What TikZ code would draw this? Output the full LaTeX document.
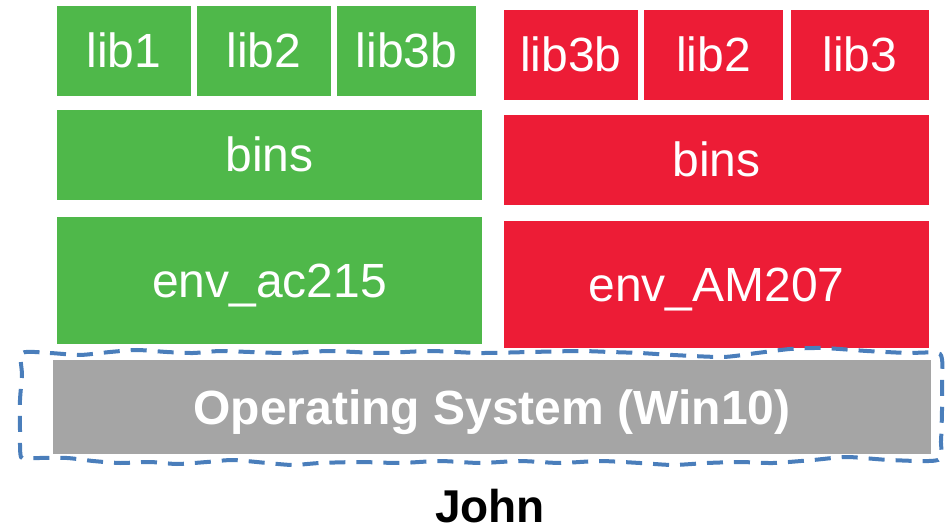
\documentclass[tikz,border=0pt]{standalone}
\usepackage{fontspec}
\setmainfont{Liberation Sans}
\definecolor{envgreen}{RGB}{79,184,74}
\definecolor{envred}{RGB}{237,28,54}
\definecolor{osgray}{RGB}{165,165,165}
\definecolor{userblue}{RGB}{74,126,187}
\tikzset{
  layer/.style={draw=none, inner sep=0pt, text=white, text height=34pt, text depth=0pt,
    font=\fontsize{48}{58}\selectfont},
  gbox/.style={layer, fill=envgreen},
  rbox/.style={layer, fill=envred},
  osbox/.style={layer, fill=osgray, font=\fontsize{48}{58}\selectfont\bfseries},
  userline/.style={draw=userblue, line width=4pt, dash pattern=on 16pt off 11pt},
}
\begin{document}
\begin{tikzpicture}[x=1pt,y=-1pt]
  \useasboundingbox (0,0) rectangle (945,529);

  % environment env_ac215
  \node[gbox, minimum width=134pt, minimum height=90pt] (g1) at (124,51) {lib1};
  \node[gbox, minimum width=134pt, minimum height=90pt] (g2) at (264,51) {lib2};
  \node[gbox, minimum width=139pt, minimum height=90pt] (g3) at (406.5,51) {lib3b};
  \node[gbox, minimum width=425pt, minimum height=90pt] (gbins) at (269.5,155) {bins};
  \node[gbox, minimum width=425pt, minimum height=127pt] (genv) at (269.5,280.5) {env\_ac215};

  % environment env_AM207
  \node[rbox, minimum width=134pt, minimum height=90pt] (r1) at (571,55) {lib3b};
  \node[rbox, minimum width=139pt, minimum height=90pt] (r2) at (713.5,55) {lib2};
  \node[rbox, minimum width=138pt, minimum height=90pt] (r3) at (860,55) {lib3};
  \node[rbox, minimum width=425pt, minimum height=90pt] (rbins) at (716.5,160) {bins};
  \node[rbox, minimum width=425pt, minimum height=127pt] (renv) at (716.5,284.5) {env\_AM207};

  % operating system
  \node[osbox, minimum width=878pt, minimum height=94pt] (os) at (492,407) {Operating System (Win10)};

  % user boundary
  \draw[userline] plot[smooth cycle, tension=0.4] coordinates {
    (22,353) (50,353) (80,355) (110,352) (137,350) (167,352) (193,353)
    (220,351) (250,352) (287,353) (330,351) (380,353) (430,351) (480,353)
    (530,352) (580,351) (610,352) (640,353) (673,355) (723,357) (757,353)
    (790,349) (823,348) (867,351) (907,353) (940,354)
    (942,380) (942,410) (941,440) (938,460)
    (890,460) (847,457) (813,460) (773,463) (740,462) (707,463)
    (673,465) (640,463) (600,461) (560,463) (520,461) (480,463) (440,461)
    (400,463) (360,462) (320,463) (293,465) (267,463) (233,460) (207,462)
    (177,464) (150,462) (120,463) (93,461) (67,458) (33,458) (21,457)
    (20,430) (20,400) (22,375)};

  \node[font=\fontsize{46}{55}\selectfont\bfseries, inner sep=0pt, anchor=base] (user) at (490,522) {John};
\end{tikzpicture}
\end{document}
